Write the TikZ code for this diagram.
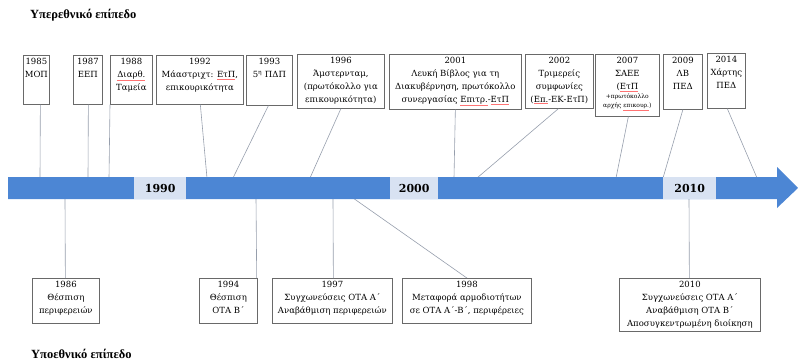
\documentclass[tikz,border=0pt]{standalone}
\usepackage{fontspec}
\setmainfont{DejaVu Serif}
\newfontfamily\titlefont{Liberation Serif}
\usetikzlibrary{calc}
\definecolor{bandblue}{RGB}{76,134,212}
\definecolor{yearbg}{RGB}{216,226,242}
\definecolor{boxline}{RGB}{105,105,105}
\definecolor{connline}{RGB}{150,158,172}
\newcommand\sqw[1]{{\color{red!55}\underline{\color{black}#1}}}
\begin{document}
\begin{tikzpicture}[x=1pt,y=-1pt,
  frame/.style={draw=boxline, line width=0.7pt, fill=white, inner sep=0pt, anchor=north west},
  btext/.style={anchor=north, align=center, font=\fontsize{8.5}{13}\selectfont, inner sep=0pt, yshift=-2.5pt},
  conn/.style={draw=connline, line width=0.6pt},
  yearlab/.style={fill=yearbg, font=\fontsize{11}{13}\selectfont\bfseries, minimum height=22pt, inner sep=0pt, anchor=north west},
  ttl/.style={font=\titlefont\fontsize{12.5}{14}\selectfont\bfseries, anchor=west, inner sep=0pt}]
\useasboundingbox (0,0) rectangle (798,364);

% titles
\node[ttl] (tup) at (30,15) {Υπερεθνικό επίπεδο};
\node[ttl] (tdown) at (31,354) {Υποεθνικό επίπεδο};

% boxes (frames)
\node[frame, minimum width=26pt, minimum height=49pt] (b1985) at (23,55) {};
\node[frame, minimum width=29pt, minimum height=49pt] (b1987) at (73,55) {};
\node[frame, minimum width=42pt, minimum height=49pt] (b1988) at (110,55) {};
\node[frame, minimum width=87pt, minimum height=49pt] (b1992) at (156,55) {};
\node[frame, minimum width=46pt, minimum height=50pt] (b1993) at (246,55) {};
\node[frame, minimum width=87pt, minimum height=54pt] (b1996) at (297,54) {};
\node[frame, minimum width=132pt, minimum height=55pt] (b2001) at (389,54) {};
\node[frame, minimum width=68pt, minimum height=54pt] (b2002) at (525,54) {};
\node[frame, minimum width=64pt, minimum height=62pt] (b2007) at (595,54) {};
\node[frame, minimum width=39pt, minimum height=55pt] (b2009) at (663,54) {};
\node[frame, minimum width=38pt, minimum height=55pt] (b2014) at (707,53) {};
\node[frame, minimum width=67pt, minimum height=45pt] (b1986) at (32,278) {};
\node[frame, minimum width=58pt, minimum height=45pt] (b1994) at (199,278) {};
\node[frame, minimum width=120pt, minimum height=45pt] (b1997) at (272,278) {};
\node[frame, minimum width=129pt, minimum height=45pt] (b1998) at (402,278) {};
\node[frame, minimum width=141pt, minimum height=53pt] (b2010) at (619,278) {};

% band coordinates for connectors
\coordinate (t1985) at (40,178);
\coordinate (t1987) at (88,178);
\coordinate (t1988) at (109,178);
\coordinate (t1992) at (207,178);
\coordinate (t1993) at (233,178);
\coordinate (t1996) at (310,178);
\coordinate (t2001) at (454,178);
\coordinate (t2002) at (477,178);
\coordinate (t2007) at (616,178);
\coordinate (t2009) at (663,178);
\coordinate (t2014) at (757,178);
\coordinate (d1986) at (65,198);
\coordinate (d1994) at (256,198);
\coordinate (d1997) at (333,198);
\coordinate (d1998) at (353,198);
\coordinate (d2010) at (689,198);

% connectors
\draw[conn] ([xshift=4pt]b1985.south) -- (t1985);
\draw[conn] ([xshift=0.5pt]b1987.south) -- (t1987);
\draw[conn] (b1988.south west) -- (t1988);
\draw[conn] ([xshift=0.5pt]b1992.south) -- (t1992);
\draw[conn] ([xshift=-1pt]b1993.south) -- (t1993);
\draw[conn] (b1996.south) -- (t1996);
\draw[conn] (b2001.south) -- (t2001);
\draw[conn] ([xshift=-1pt]b2002.south) -- (t2002);
\draw[conn] ([xshift=1pt]b2007.south) -- (t2007);
\draw[conn] (b2009.south) -- (t2009);
\draw[conn] ([xshift=1pt]b2014.south) -- (t2014);
\draw[conn] (d1986) -- ([xshift=-0.5pt]b1986.north);
\draw[conn] (d1994) -- ([xshift=-1pt]b1994.north east);
\draw[conn] (d1997) -- ([xshift=1pt]b1997.north);
\draw[conn] (d1998) -- (b1998.north);
\draw[conn] (d2010) -- ([xshift=-0.5pt]b2010.north);

% band arrow
\fill[bandblue] (8,177) -- (777,177) -- (777,167) -- (798,188) -- (777,208) -- (777,199) -- (8,199) -- cycle;

% year labels
\node[yearlab, minimum width=52pt] (y1990) at (134,177) {1990};
\node[yearlab, minimum width=48pt] (y2000) at (390,177) {2000};
\node[yearlab, minimum width=53pt] (y2010) at (663,177) {2010};

% box texts
\node[btext] (x1985) at (b1985.north) {1985\\ΜΟΠ};
\node[btext] (x1987) at (b1987.north) {1987\\ΕΕΠ};
\node[btext] (x1988) at (b1988.north) {1988\\\sqw{Διαρθ.}\\Ταμεία};
\node[btext] (x1992) at (b1992.north) {1992\\Μάαστριχτ: \sqw{ΕτΠ},\\επικουρικότητα};
\node[btext] (x1993) at (b1993.north) {1993\\5\textsuperscript{η} ΠΔΠ};
\node[btext] (x1996) at (b1996.north) {1996\\Άμστερνταμ,\\(πρωτόκολλο για\\επικουρικότητα)};
\node[btext] (x2001) at (b2001.north) {2001\\Λευκή Βίβλος για τη\\Διακυβέρνηση, πρωτόκολλο\\συνεργασίας \sqw{Επιτρ.}-\sqw{ΕτΠ}};
\node[btext] (x2002) at (b2002.north) {2002\\Τριμερείς\\συμφωνίες\\(\sqw{Επ.}-ΕΚ-ΕτΠ)};
\node[btext] (x2007) at (b2007.north) {2007\\ΣΑΕΕ\\(\sqw{ΕτΠ}\\[-3.5pt]{\fontsize{6}{7}\selectfont +πρωτόκολλο}\\[-4pt]{\fontsize{6}{7}\selectfont αρχής \sqw{επικουρ.})}};
\node[btext] (x2009) at (b2009.north) {2009\\ΛΒ\\ΠΕΔ};
\node[btext] (x2014) at (b2014.north) {2014\\Χάρτης\\ΠΕΔ};
\node[btext] (x1986) at (b1986.north) {1986\\Θέσπιση\\περιφερειών};
\node[btext] (x1994) at (b1994.north) {1994\\Θέσπιση\\ΟΤΑ Β΄};
\node[btext] (x1997) at (b1997.north) {1997\\Συγχωνεύσεις ΟΤΑ Α΄\\Αναβάθμιση περιφερειών};
\node[btext] (x1998) at (b1998.north) {1998\\Μεταφορά αρμοδιοτήτων\\σε ΟΤΑ Α΄-Β΄, περιφέρειες};
\node[btext] (x2010) at (b2010.north) {2010\\Συγχωνεύσεις ΟΤΑ Α΄\\Αναβάθμιση ΟΤΑ Β΄\\Αποσυγκεντρωμένη διοίκηση};
\end{tikzpicture}
\end{document}
